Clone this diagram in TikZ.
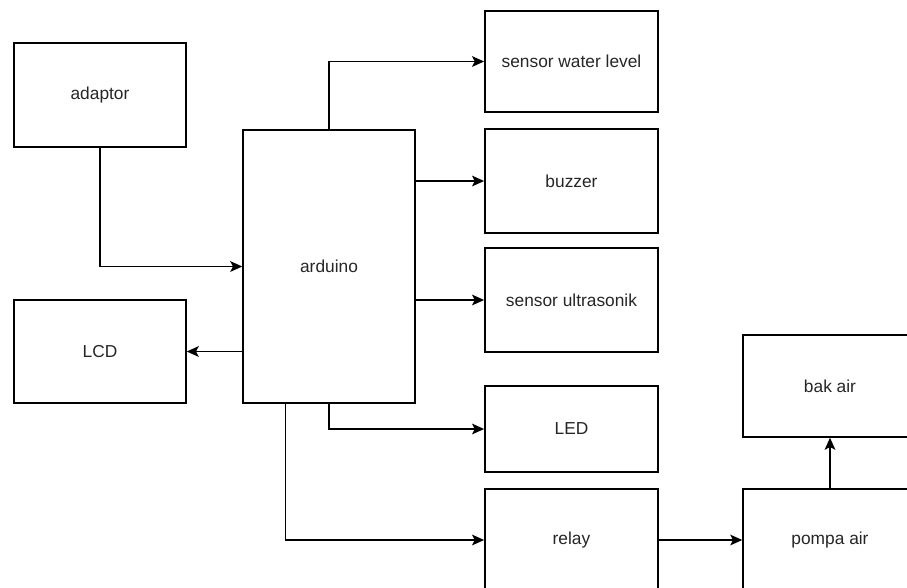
\documentclass[tikz,border=0pt]{standalone}
\usepackage{fontspec}
\setmainfont{Liberation Sans}
\usetikzlibrary{calc,arrows.meta}
\begin{document}
\begin{tikzpicture}[x=0.75pt,y=-0.75pt,
  blk/.style={draw=black, line width=1.1pt, fill=white, inner sep=0pt,
    minimum width=129pt, font=\fontsize{13pt}{15pt}\selectfont, text=black!85},
  arr/.style={draw=black, line width=1.1pt, -{Stealth[length=9pt,width=8pt,inset=2pt]}}]
\clip (0,0) rectangle (907,587);
\fill[white] (0,0) rectangle (907,587);
\node[blk, minimum height=78pt] (adaptor) at (100,95) {adaptor};
\node[blk, minimum height=205pt] (arduino) at (329,266.5) {arduino};
\node[blk, minimum height=77pt] (lcd) at (100,351.5) {LCD};
\node[blk, minimum width=130pt, minimum height=76pt] (swl) at (571.5,61.5) {sensor water level};
\node[blk, minimum width=130pt, minimum height=78pt] (buzzer) at (571.5,181) {buzzer};
\node[blk, minimum width=130pt, minimum height=78pt] (ultra) at (571.5,300) {sensor ultrasonik};
\node[blk, minimum width=130pt, minimum height=64.5pt] (led) at (571.5,429) {LED};
\node[blk, minimum width=130pt, minimum height=76.5pt] (relay) at (571.5,540) {relay};
\node[blk, minimum width=130.5pt, minimum height=76.5pt] (bak) at (830,386) {bak air};
\node[blk, minimum width=130.5pt, minimum height=76.5pt] (pompa) at (830,540) {pompa air};
\coordinate (ardq) at ($(arduino.south west)!0.25!(arduino.south east)$);
\draw[arr] (adaptor.south) |- (arduino.west);
\draw[arr] (arduino.west |- lcd.east) -- (lcd.east);
\draw[arr] (arduino.north) |- (swl.west);
\draw[arr] (arduino.east |- buzzer.west) -- (buzzer.west);
\draw[arr] (arduino.east |- ultra.west) -- (ultra.west);
\draw[arr] (arduino.south) |- (led.west);
\draw[arr] (ardq) |- (relay.west);
\draw[arr] (relay.east) -- (pompa.west);
\draw[arr] (pompa.north) -- (bak.south);
\end{tikzpicture}
\end{document}
